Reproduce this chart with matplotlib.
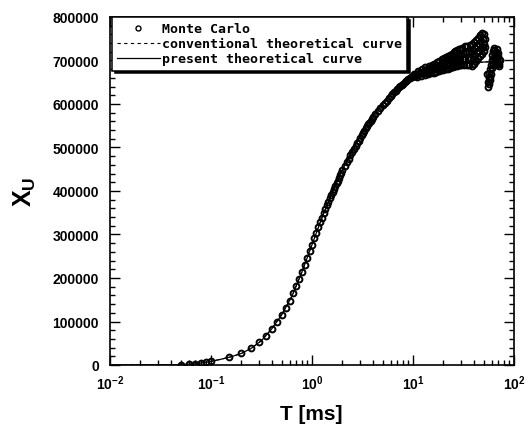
import matplotlib
matplotlib.use('Agg')
import matplotlib.pyplot as plt
from matplotlib.ticker import MultipleLocator, LogLocator, NullFormatter

plt.rcParams['mathtext.fontset'] = 'custom'
for k in ['rm', 'it', 'bf', 'sf']:
    plt.rcParams['mathtext.' + k] = 'Liberation Sans:bold'

# theoretical curves (T in ms, X_U)
theory_T = [0.01, 0.0316, 0.05, 0.0708, 0.1, 0.126, 0.158, 0.2, 0.251, 0.316, 0.398, 0.501,
            0.631, 0.794, 1.0, 1.259, 1.585, 1.995, 2.512, 3.162, 3.981, 5.012, 6.31, 7.943,
            10.0, 12.59, 15.85, 19.95, 25.12, 31.62, 39.81, 50.12, 63.1, 72.0]
present_X = [0, 200, 700, 2800, 8400, 13300, 18900, 26600, 38500, 56000, 82600, 115500,
             157500, 213500, 276500, 339500, 396200, 448000, 493500, 535500, 572600, 602000,
             626500, 648200, 662200, 672000, 680400, 686000, 690200, 693000, 695100, 696500,
             697200, 697900]
conventional_X = [0, 200, 700, 2800, 8400, 13300, 18900, 26600, 38500, 56000, 82600, 115500,
                  157500, 213500, 276500, 339500, 396200, 448000, 493500, 535500, 572600, 602000,
                  626500, 648200, 662200, 672000, 680400, 686000, 690200, 693000, 695100, 696500,
                  697200, 697900]

# Monte Carlo points
mc_T = [0.05, 0.06, 0.07, 0.08, 0.09, 0.10,
        0.15, 0.20, 0.25, 0.30, 0.35, 0.40, 0.45, 0.50, 0.55, 0.60, 0.65, 0.70, 0.75, 0.80,
        0.85, 0.90, 0.95, 1.00, 1.05, 1.10, 1.15, 1.20, 1.25, 1.30, 1.35, 1.40, 1.45, 1.50,
        1.55, 1.60, 1.65, 1.70, 1.75, 1.80, 1.85, 1.90, 1.95, 2.00,
        2.1, 2.2, 2.3, 2.4, 2.5, 2.6, 2.7, 2.8, 2.9, 3.0, 3.1, 3.2, 3.3, 3.4, 3.5, 3.6, 3.7,
        3.8, 3.9, 4.0,
        4.25, 4.5, 4.75, 5.0, 5.25, 5.5, 5.75, 6.0, 6.25, 6.5, 6.75, 7.0, 7.25, 7.5, 7.75,
        8.0, 8.25, 8.5, 8.75, 9.0, 9.25, 9.5, 9.75, 10.0,
        10.25, 10.5, 10.75, 11.0, 11.25, 11.5, 11.75, 12.0, 12.25, 12.5, 12.75, 13.0,
        13.25, 13.5, 13.75, 14.0, 14.25, 14.5, 14.75, 15.0, 15.25, 15.5, 15.75, 16.0,
        16.25, 16.5, 16.75, 17.0, 17.25, 17.5, 17.75, 18.0, 18.25, 18.5, 18.75, 19.0,
        19.25, 19.5, 19.75, 20.0, 20.25, 20.5, 20.75, 21.0, 21.25, 21.5, 21.75, 22.0,
        22.25, 22.5, 22.75, 23.0, 23.25, 23.5, 23.75, 24.0, 24.25, 24.5, 24.75, 25.0,
        25.25, 25.5, 25.75, 26.0, 26.25, 26.5, 26.75, 27.0, 27.25, 27.5, 27.75, 28.0,
        28.25, 28.5, 28.75, 29.0, 29.25, 29.5, 29.75, 30.0,
        30.5, 31.0, 31.5, 32.0, 32.5, 33.0, 33.5, 34.0, 34.5, 35.0, 35.5, 36.0, 36.5, 37.0,
        37.5, 38.0, 38.5, 39.0, 39.5, 40.0, 40.5, 41.0, 41.5, 42.0, 42.5, 43.0, 43.5, 44.0,
        44.5, 45.0, 45.5, 46.0, 46.5, 47.0, 47.5, 48.0, 48.5, 49.0, 49.5, 50.0, 50.5, 51.0,
        51.5, 52.0,
        54.5, 55.0, 55.5, 56.0, 56.5, 57.0, 57.5, 58.0, 58.5, 59.0, 59.5, 60.0, 60.5, 61.0,
        61.5, 62.0, 62.5, 63.0, 63.5, 64.0, 64.5, 65.0, 65.5, 66.0, 66.5, 67.0, 67.5, 68.0,
        68.5, 69.0, 69.5, 70.0, 70.5, 71.0, 71.5, 72.0]
mc_X = [600, 1500, 2700, 4200, 6200, 8500,
        18000, 27000, 39000, 52500, 67000, 82500, 98500, 115000, 131000, 148000, 165000,
        182000, 198000, 214000, 229000, 245000, 261000, 277000, 291000, 304000, 317000,
        329000, 339000, 349000, 358000, 367000, 375000, 383000, 391000, 398000, 405000,
        412000, 418000, 424000, 430000, 436000, 442000, 448000,
        457000, 466000, 474000, 482000, 490000, 497000, 504000, 510000, 516000, 522000,
        528000, 534000, 539000, 544000, 549000, 553000, 557000, 562000, 566000, 570000,
        578000, 585000, 591000, 598000, 603000, 608000, 613000, 618000, 623000, 627000,
        631000, 635000, 638000, 641000, 644000, 647000, 650000, 652000, 655000, 657000,
        659000, 661000, 663000, 664000,
        670000, 664000, 669000, 662000, 675000, 668000, 673000, 665000, 680000, 671500,
        677000, 667000, 684000, 674000, 680000, 669500, 687000, 676000, 682500, 671000,
        690000, 678000, 685000, 672000, 692500, 679500, 687000, 673500, 696000, 682000,
        690000, 675500, 699000, 684000, 693000, 678000, 703000, 687000, 696000, 679000,
        705500, 688500, 698000, 680000, 708500, 690000, 700000, 681500, 711000, 692000,
        702500, 683000, 713500, 694000, 704500, 685000, 716000, 696000, 707000, 686000,
        718500, 697500, 709000, 687000, 721500, 699000, 711000, 688500, 724000, 701000,
        713000, 689500, 725500, 702000, 714000, 690000, 727000, 703000, 715000, 690000,
        729500, 704000, 718000, 690000, 732500, 704500, 719000, 690000, 734000, 704500,
        720000, 689500, 736000, 705000, 721000, 688000, 738000, 704500, 723000, 691000,
        742500, 711000, 728500, 698000, 747000, 717500, 734000, 706000, 751000, 722500,
        739000, 710000, 758000, 728000, 745000, 714000, 763000, 732000, 748500, 721000,
        762000, 738000, 750000, 730000,
        668000, 650000, 640000, 660000, 645000, 672000, 655000, 680000, 662000, 690000,
        670000, 700000, 682000, 712000, 692000, 722000, 700000, 728000, 708000, 725000,
        700000, 718000, 695000, 712000, 690000, 720000, 698000, 726000, 705000, 718000,
        695000, 710000, 688000, 702000, 692000, 700000]

y_ticks = [0, 100000, 200000, 300000, 400000, 500000, 600000, 700000, 800000]
x_ticks = [0.01, 0.1, 1, 10, 100]
x_tick_labels = [r'$10^{-2}$', r'$10^{-1}$', r'$10^{0}$', r'$10^{1}$', r'$10^{2}$']

W, H = 530, 427
fig = plt.figure(figsize=(W / 100, H / 100), dpi=100)
ax = fig.add_axes([110 / W, 1 - 366 / H, (514 - 110) / W, (366 - 18) / H])
ax.set_xscale('log')

l_conv, = ax.plot(theory_T, conventional_X, ls=(0, (3, 3)), color='black', lw=0.8)
l_pres, = ax.plot(theory_T, present_X, ls='-', color='black', lw=0.9)
l_mc, = ax.plot(mc_T, mc_X, ls='none', marker='o', ms=4.2, mfc='none', mec='black', mew=1.4)

ax.set_xlim(0.01, 100)
ax.set_ylim(0, 800000)
ax.set_xticks(x_ticks, labels=x_tick_labels)
ax.xaxis.set_minor_locator(LogLocator(base=10, subs=[2, 3, 4, 5, 6, 7, 8, 9]))
ax.xaxis.set_minor_formatter(NullFormatter())
ax.set_yticks(y_ticks, labels=[str(v) for v in y_ticks])
ax.yaxis.set_minor_locator(MultipleLocator(20000))
for lab in ax.get_yticklabels() + ax.get_xticklabels():
    lab.set_fontfamily('Liberation Sans')
    lab.set_fontweight('bold')
    lab.set_fontsize(10)
ax.tick_params(which='both', direction='in', top=True, right=True, width=1, colors='black')
ax.tick_params(axis='y', which='major', length=7, pad=8)
ax.tick_params(axis='x', which='major', length=7, pad=6)
ax.tick_params(which='minor', length=3.5)
for s in ax.spines.values():
    s.set_linewidth(1.2)

leg = ax.legend([l_mc, l_conv, l_pres],
                ['Monte Carlo', 'conventional theoretical curve', 'present theoretical curve'],
                loc='upper left', bbox_to_anchor=(0.005, 1.0), borderaxespad=0,
                prop={'family': 'DejaVu Sans Mono', 'weight': 'bold', 'size': 9.5},
                handlelength=3.2, handletextpad=0.2, borderpad=0.4, labelspacing=0.15,
                numpoints=1, fancybox=False, framealpha=1, edgecolor='black',
                shadow={'color': 'black', 'alpha': 1.0})
leg.get_frame().set_linewidth(1.1)
leg.legend_handles[0].set_markeredgewidth(1.0)
leg.legend_handles[0].set_markersize(3.6)

fig.text(311 / W, 1 - 415 / H, 'T [ms]', ha='center', va='center',
         family=['Liberation Sans Narrow', 'Liberation Sans'], weight='bold', fontsize=15)
fig.text(25 / W, 1 - 192 / H, r'$X_U$', ha='center', va='center', rotation=90, fontsize=18)

fig.savefig('out.png', dpi=100)
